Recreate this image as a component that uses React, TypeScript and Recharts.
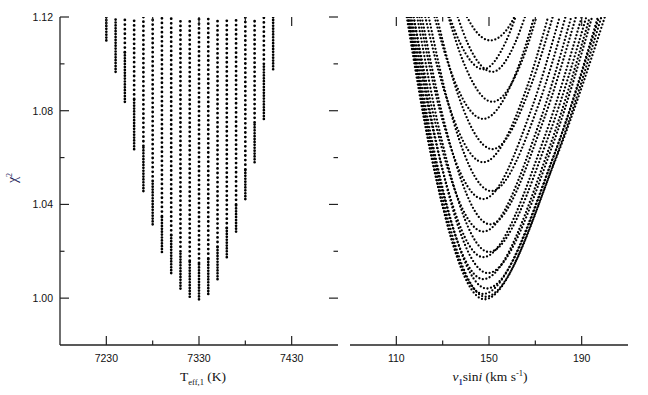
import React from 'react';
import { ComposedChart, Line, XAxis, YAxis } from 'recharts';

// ---- Left panel: chi2 vs Teff,1 (one column of models per Teff step) ----
const teffColumns = [7230, 7240, 7250, 7260, 7270, 7280, 7290, 7300, 7310, 7320, 7330, 7340, 7350, 7360, 7370, 7380, 7390, 7400, 7410];
const chi2Min = [1.110, 1.0966, 1.0838, 1.0636, 1.0457, 1.0315, 1.0197, 1.0107, 1.0041, 1.0006, 0.9995, 1.0018, 1.0081, 1.0175, 1.0284, 1.0423, 1.058, 1.0765, 1.0977];
// level up to which the column's points are densely packed
const chi2DenseTop = [1.12, 1.12, 1.105, 1.085, 1.065, 1.05, 1.035, 1.027, 1.02, 1.016, 1.015, 1.017, 1.022, 1.03, 1.04, 1.055, 1.075, 1.1, 1.12];
const chi2Ceiling = 1.12;

// ---- Right panel: chi2 vs v1 sin i, one curve per Teff column ----
const vsiniBest = [150.5, 151.5, 151.5, 151.5, 151, 150.5, 150, 149.5, 149, 148.5, 148, 147.5, 147.5, 147.5, 147.5, 147.5, 147.5, 147.5, 147.5];
const vsiniLeftTop = [140.5, 136.5, 132.5, 127.5, 124, 121, 119, 117.5, 116, 115.5, 115, 114.5, 115, 116.5, 117.5, 120, 122.5, 126.5, 133];
const vsiniLeftMid = [143.5, 141, 138.5, 135, 132.5, 130.5, 129, 127.5, 126.5, 126, 125.4, 125, 125.5, 126.5, 127, 128.5, 130.5, 133, 137.5];
const vsiniRightMid = [158, 161, 164.5, 168.5, 171.5, 173.5, 176, 177.5, 178.5, 179, 179, 178, 176, 174, 171.5, 168.5, 166, 162.5, 157];
const vsiniRightTop = [161, 165.5, 170.5, 177.5, 183, 187.5, 192, 194.5, 197, 198.5, 200, 197.5, 193.5, 190, 185.5, 180.5, 175.5, 169.5, 161.5];
const chi2MidLevel = [1.115, 1.1083, 1.1019, 1.0918, 1.0829, 1.0758, 1.0699, 1.0654, 1.0621, 1.0603, 1.0598, 1.0609, 1.0641, 1.0688, 1.0742, 1.0812, 1.089, 1.0983, 1.1089];

// ---- Axes ----
const teffTicks = [7230, 7280, 7330, 7380, 7430];
const teffLabels = [7230, 7330, 7430];
const vsiniTicks = [110, 130, 150, 170, 190];
const vsiniLabels = [110, 150, 190];
const chi2Ticks = [1.0, 1.02, 1.04, 1.06, 1.08, 1.1, 1.12];
const chi2Labels = [1.0, 1.04, 1.08, 1.12];

const AXIS = '#222';
const TICKFONT = '"Liberation Sans", Arial, sans-serif';
const SERIF = '"Liberation Serif", "Times New Roman", serif';

const W = 648;
const H = 395;
const PLOT_TOP = 17;
const PLOT_BOTTOM = 345;

const isMajor = (v: number, labels: number[]) => labels.some((l) => Math.abs(l - v) < 1e-6);

// bottom axis tick: draws the inward tick at the bottom and its twin at the top frame
const BottomTick = (props: any) => {
  const { x, y, payload, labels } = props;
  const major = isMajor(payload.value, labels);
  const len = major ? 9 : 4.5;
  const top = y - (PLOT_BOTTOM - PLOT_TOP);
  return (
    <g>
      <line x1={x} x2={x} y1={y} y2={y - len} stroke={AXIS} strokeWidth={1.2} />
      <line x1={x} x2={x} y1={top} y2={top + len} stroke={AXIS} strokeWidth={1.2} />
      {major && (
        <text x={x} y={y + 17} textAnchor="middle" fontSize={10.5} fontFamily={TICKFONT} fill="#111">
          {payload.value}
        </text>
      )}
    </g>
  );
};

// left axis tick: draws the inward tick at the left and its twin at the right frame
const LeftTick = (props: any) => {
  const { x, y, payload, labels, showLabel, plotWidth } = props;
  const major = isMajor(payload.value, labels);
  const len = major ? 9 : 4.5;
  const right = x + plotWidth;
  return (
    <g>
      <line x1={x} x2={x + len} y1={y} y2={y} stroke={AXIS} strokeWidth={1.2} />
      <line x1={right} x2={right - len} y1={y} y2={y} stroke={AXIS} strokeWidth={1.2} />
      {showLabel && major && (
        <text x={x - 7} y={y + 3.8} textAnchor="end" fontSize={10.5} fontFamily={TICKFONT} fill="#111">
          {Number(payload.value).toFixed(2)}
        </text>
      )}
    </g>
  );
};

const axisLine = { stroke: AXIS, strokeWidth: 1.3 };

const columnDense = teffColumns.map((t, i) => [
  { x: t, y: chi2Min[i] },
  { x: t, y: chi2DenseTop[i] },
]);
const columnSparse = teffColumns.map((t, i) =>
  chi2DenseTop[i] < chi2Ceiling
    ? [
        { x: t, y: chi2DenseTop[i] },
        { x: t, y: chi2Ceiling },
      ]
    : null
);

const curves = teffColumns.map((_, i) => [
  { x: vsiniLeftTop[i], y: chi2Ceiling },
  { x: vsiniLeftMid[i], y: chi2MidLevel[i] },
  { x: vsiniBest[i], y: chi2Min[i] },
  { x: vsiniRightMid[i], y: chi2MidLevel[i] },
  { x: vsiniRightTop[i], y: chi2Ceiling },
]);

const Frame = ({ children, xDomain, xTicks, xLabels, margin, leftLabels, plotWidth }: any) => (
  <ComposedChart width={W} height={H} margin={margin}>
    <XAxis
      type="number"
      dataKey="x"
      domain={xDomain}
      allowDataOverflow
      ticks={xTicks}
      interval={0}
      height={50}
      tickSize={0}
      tickMargin={0}
      tickLine={false}
      axisLine={axisLine}
      tick={<BottomTick labels={xLabels} />}
    />
    <XAxis
      xAxisId="top"
      orientation="top"
      type="number"
      dataKey="x"
      domain={xDomain}
      allowDataOverflow
      height={0}
      tick={false}
      tickLine={false}
      axisLine={axisLine}
    />
    <YAxis
      type="number"
      domain={[0.98, 1.12]}
      allowDataOverflow
      ticks={chi2Ticks}
      interval={0}
      width={leftLabels ? 60 : 0}
      tickSize={0}
      tickMargin={0}
      tickLine={false}
      axisLine={axisLine}
      tick={<LeftTick labels={chi2Labels} showLabel={leftLabels} plotWidth={plotWidth} />}
    />
    <YAxis
      yAxisId="right"
      orientation="right"
      type="number"
      domain={[0.98, 1.12]}
      allowDataOverflow
      width={0}
      tick={false}
      tickLine={false}
      axisLine={axisLine}
    />
    {children}
  </ComposedChart>
);

export default function App() {
  return (
    <div style={{ position: 'absolute', left: 0, top: 0, width: W, height: H, background: '#fff' }}>
      <div style={{ position: 'absolute', left: 0, top: 0 }}>
        <Frame
          xDomain={[7180, 7480]}
          xTicks={teffTicks}
          xLabels={teffLabels}
          margin={{ top: PLOT_TOP, right: 310, bottom: 0, left: 0 }}
          leftLabels
          plotWidth={278}
        >
          {columnDense.map((d, i) => (
            <Line
              key={'d' + i}
              data={d}
              dataKey="y"
              type="linear"
              stroke="#000"
              strokeWidth={2.7}
              strokeDasharray="0 2.9"
              strokeLinecap="round"
              dot={false}
              activeDot={false}
              isAnimationActive={false}
            />
          ))}
          {columnSparse.map((d, i) =>
            d ? (
              <Line
                key={'s' + i}
                data={d}
                dataKey="y"
                type="linear"
                stroke="#000"
                strokeWidth={2.8}
                strokeDasharray="0 4.6"
                strokeLinecap="round"
                dot={false}
                activeDot={false}
                isAnimationActive={false}
              />
            ) : null
          )}
        </Frame>
      </div>
      <div style={{ position: 'absolute', left: 0, top: 0 }}>
        <Frame
          xDomain={[90, 210]}
          xTicks={vsiniTicks}
          xLabels={vsiniLabels}
          margin={{ top: PLOT_TOP, right: 20, bottom: 0, left: 350 }}
          leftLabels={false}
          plotWidth={278}
        >
          {curves.map((d, i) => (
            <Line
              key={'c' + i}
              data={d}
              dataKey="y"
              type="monotone"
              stroke="#000"
              strokeWidth={2.3}
              strokeDasharray="0 3.6"
              strokeLinecap="round"
              dot={false}
              activeDot={false}
              isAnimationActive={false}
            />
          ))}
        </Frame>
      </div>
      <svg width={W} height={H} style={{ position: 'absolute', left: 0, top: 0, pointerEvents: 'none' }}>
        <text
          x={17}
          y={178}
          transform="rotate(-90 17 178)"
          textAnchor="middle"
          fontFamily={SERIF}
          fontSize={14}
          fill="#1c1c5a"
        >
          χ<tspan dy={-5} fontSize={8}>2</tspan>
        </text>
        <text x={203} y={381} textAnchor="middle" fontFamily={SERIF} fontSize={13.5} fill="#111">
          T<tspan dy={3.5} fontSize={8.5}>eff,1</tspan>
          <tspan dy={-3.5}> (K)</tspan>
        </text>
        <text x={490} y={381} textAnchor="middle" fontFamily={SERIF} fontSize={13.5} fill="#111">
          <tspan fontStyle="italic">v</tspan>
          <tspan dy={3.5} fontSize={8.5} fill="#1f3a9a" fontWeight="bold">1</tspan>
          <tspan dy={-3.5}>sin</tspan>
          <tspan fontStyle="italic">i</tspan>
          <tspan> (km s</tspan>
          <tspan dy={-5} fontSize={8.5}>-1</tspan>
          <tspan dy={5}>)</tspan>
        </text>
      </svg>
    </div>
  );
}
